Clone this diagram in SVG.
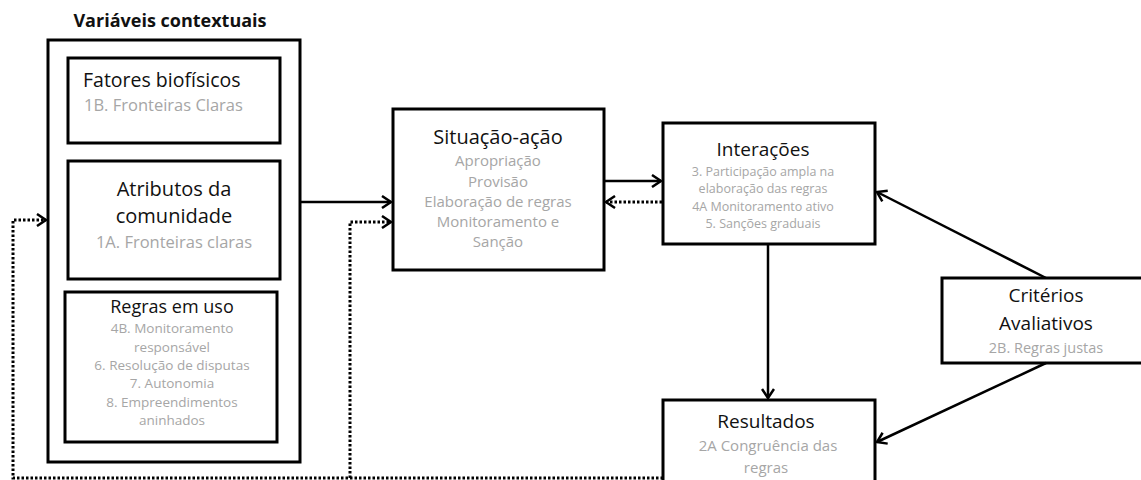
<svg xmlns="http://www.w3.org/2000/svg" width="1141" height="480" viewBox="0 0 1141 480">
<style>
.box{fill:#fff;stroke:#000;stroke-width:3}
.t{font-family:"Open Sans",Lato,sans-serif;fill:#111}
.g{font-family:"Open Sans",Lato,sans-serif;fill:#a6a6a6}
.c{text-anchor:middle}
.ln{fill:none;stroke:#000;stroke-width:2.5}
.dot{fill:none;stroke:#000;stroke-width:3;stroke-dasharray:2.5 2}
</style>
<defs>
<marker id="ah" markerWidth="14" markerHeight="14" refX="11" refY="7" orient="auto" markerUnits="userSpaceOnUse">
<path d="M2,1 L11,7 L2,13" fill="none" stroke="#000" stroke-width="2.5"/>
</marker>
</defs>
<rect width="1141" height="480" fill="#fff"/>
<g id="contextuais">
<text class="t" x="170" y="27" font-size="18" font-weight="bold" text-anchor="middle">Variáveis contextuais</text>
<rect class="box" x="48" y="40" width="252" height="422"/>
</g>
<g id="fatores">
<rect class="box" x="68" y="58" width="212" height="85"/>
<text class="t" x="83" y="87" font-size="19.5">Fatores biofísicos</text>
<text class="g" x="84" y="111" font-size="16.5">1B. Fronteiras Claras</text>
</g>
<g id="atributos">
<rect class="box" x="68" y="161" width="212" height="118"/>
<text class="t c" x="174" y="196" font-size="20">Atributos da</text>
<text class="t c" x="174" y="223" font-size="20">comunidade</text>
<text class="g c" x="174" y="248" font-size="16.5">1A. Fronteiras claras</text>
</g>
<g id="regras">
<rect class="box" x="65" y="292" width="212" height="150"/>
<text class="t c" x="172" y="313" font-size="18">Regras em uso</text>
<text class="g c" font-size="13.5" x="172"><tspan x="172" y="333">4B. Monitoramento</tspan><tspan x="172" y="352">responsável</tspan><tspan x="172" y="370">6. Resolução de disputas</tspan><tspan x="172" y="388">7. Autonomia</tspan><tspan x="172" y="407">8. Empreendimentos</tspan><tspan x="172" y="425">aninhados</tspan></text>
</g>
<g id="situacao">
<rect class="box" x="393" y="109" width="211" height="161"/>
<text class="t c" x="498" y="144" font-size="20">Situação-ação</text>
<text class="g c" font-size="15"><tspan x="498" y="166">Apropriação</tspan><tspan x="498" y="187">Provisão</tspan><tspan x="498" y="207">Elaboração de regras</tspan><tspan x="498" y="227">Monitoramento e</tspan><tspan x="498" y="247">Sanção</tspan></text>
</g>
<g id="interacoes">
<rect class="box" x="663" y="123" width="212" height="121"/>
<text class="t c" x="763" y="156" font-size="19">Interações</text>
<text class="g c" font-size="12.5"><tspan x="763" y="176">3. Participação ampla na</tspan><tspan x="763" y="193">elaboração das regras</tspan><tspan x="763" y="211">4A  Monitoramento ativo</tspan><tspan x="763" y="228">5. Sanções graduais</tspan></text>
</g>
<g id="criterios">
<rect class="box" x="942" y="278" width="210" height="85"/>
<text class="t c" x="1046" y="302" font-size="19">Critérios</text>
<text class="t c" x="1046" y="330" font-size="19">Avaliativos</text>
<text class="g c" x="1046" y="353" font-size="14.5">2B. Regras justas</text>
</g>
<g id="resultados">
<rect class="box" x="663" y="400" width="212" height="100"/>
<text class="t c" x="766" y="428" font-size="19">Resultados</text>
<text class="g c" x="768" y="451" font-size="15">2A Congruência  das</text>
<text class="g c" x="766" y="473" font-size="15">regras</text>
</g>
<g id="connectors">
<line class="ln" x1="300" y1="202" x2="391" y2="202" marker-end="url(#ah)"/>
<line class="ln" x1="604" y1="181" x2="661" y2="181" marker-end="url(#ah)"/>
<line class="dot" x1="662" y1="202" x2="606" y2="202" marker-end="url(#ah)"/>
<line class="ln" x1="768" y1="244" x2="768" y2="398" marker-end="url(#ah)"/>
<line class="ln" x1="1046" y1="278" x2="877" y2="192" marker-end="url(#ah)"/>
<line class="ln" x1="1046" y1="363" x2="877" y2="442" marker-end="url(#ah)"/>
<polyline class="dot" points="663,478 13,478 13,220 46,220" marker-end="url(#ah)"/>
<polyline class="dot" points="350,478 350,222 391,222" marker-end="url(#ah)"/>
</g>
</svg>
